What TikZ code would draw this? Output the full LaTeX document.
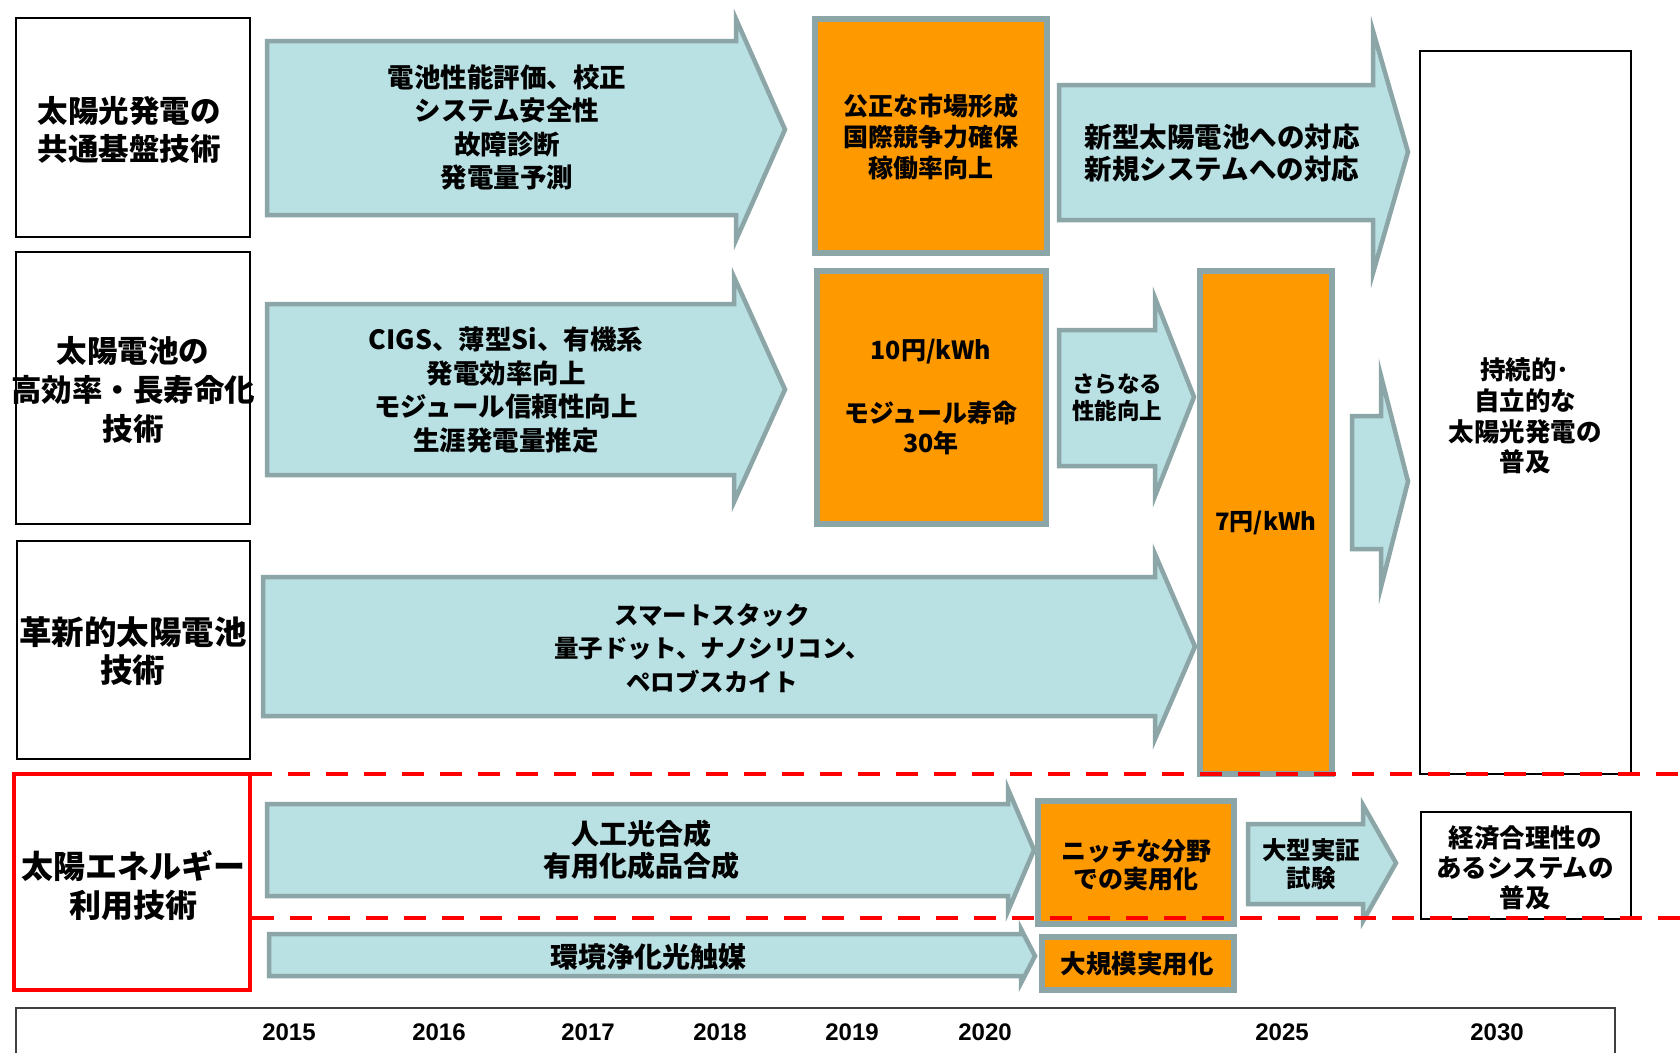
\documentclass[tikz,border=0pt]{standalone}
\usepackage{fontspec}
\newfontfamily\jp{Noto Sans CJK JP}
\newfontfamily\lat{Liberation Sans}
\definecolor{ablue}{HTML}{B9E0E3}
\definecolor{agray}{HTML}{8CA6A8}
\definecolor{orng}{HTML}{FF9900}
\definecolor{ygray}{HTML}{404040}
\tikzset{
  arrowshape/.style={fill=ablue, draw=agray, line width=4.5pt, line join=miter},
  obox/.style={draw=agray, fill=orng, line width=6pt, inner sep=0pt},
  lbox/.style={draw=black, line width=1.6pt, fill=white, inner sep=0pt},
  redbox/.style={draw=red, line width=4.5pt, fill=white, inner sep=0pt},
  txt/.style={align=center, inner sep=0pt},
  fsz/.style 2 args={font=\jp\bfseries\fontsize{#1}{#2}\selectfont},
  yr/.style={inner sep=0pt, font=\lat\bfseries\fontsize{24}{28}\selectfont},
  sep/.style={draw=red, line width=4pt, dash pattern=on 22pt off 16pt},
}
\newcommand{\blockarrow}[7]{\draw[arrowshape] (#1,#2) -- (#4,#2) -- (#4,#5) -- (#7,{(#5+#6)/2}) -- (#4,#6) -- (#4,#3) -- (#1,#3) -- cycle;}
\begin{document}
\begin{tikzpicture}[x=1pt,y=-1pt]
\useasboundingbox (0,0) rectangle (1680,1052);
\fill[white] (0,0) rectangle (1680,1052);

% block arrows
\blockarrow{267}{41}{215}{736}{19}{240}{785}
\blockarrow{1059}{85}{220}{1373}{31}{273}{1408}
\blockarrow{267}{304}{475}{734}{277}{502}{785}
\blockarrow{1059}{330}{466}{1155}{298}{496}{1194}
\blockarrow{1352}{416}{549}{1381}{376}{587}{1408}
\blockarrow{263}{577}{716}{1155}{554}{739}{1195}
\blockarrow{267}{804}{896}{1008}{789}{911}{1034}
\blockarrow{1248}{824}{904}{1363}{805}{921}{1396}
\blockarrow{269}{934}{976}{1021}{929}{983}{1035}

% orange boxes
\node[obox, minimum width=232pt, minimum height=234pt] (o1) at (931,136) {};
\node[obox, minimum width=229pt, minimum height=253pt] (o2) at (931.5,397.5) {};
\node[obox, minimum width=132pt, minimum height=503pt] (o3) at (1266,522.5) {};
\node[obox, minimum width=196pt, minimum height=123pt] (o4) at (1136,862.5) {};
\node[obox, minimum width=192pt, minimum height=53pt] (o5) at (1138,963.5) {};

% white boxes right
\node[lbox, minimum width=211pt, minimum height=723pt] (r1) at (1525.5,412.5) {};
\node[lbox, minimum width=210pt, minimum height=107pt] (r2) at (1526,865.5) {};

% left boxes
\node[lbox, minimum width=234pt, minimum height=219pt] (b1) at (133,127.5) {};
\node[lbox, minimum width=234pt, minimum height=272pt] (b2) at (133,388) {};
\node[lbox, minimum width=233pt, minimum height=218pt] (b3) at (133.5,650) {};
\node[redbox, minimum width=236pt, minimum height=216pt] (b4) at (132,882) {};

% texts
\node[txt, fsz={30.5}{38}] (b1t) at (129,130) {太陽光発電の\\共通基盤技術};
\node[txt, fsz={30.5}{39}] (b2t) at (133,390) {太陽電池の\\高効率・長寿命化\\技術};
\node[txt, fsz={32.5}{38}] (b3t) at (133,651) {革新的太陽電池\\技術};
\node[txt, fsz={32}{39}] (b4t) at (133,885.5) {太陽エネルギー\\利用技術};

\node[txt, fsz={26.5}{33.5}] (a1t) at (507,127.5) {電池性能評価、校正\\システム安全性\\故障診断\\発電量予測};
\node[txt, fsz={25}{31}] (o1t) at (931,137) {公正な市場形成\\国際競争力確保\\稼働率向上};
\node[txt, fsz={27.5}{32}] (a2t) at (1222,153) {新型太陽電池への対応\\新規システムへの対応};
\node[txt, fsz={25.5}{30.7}] (r1t) at (1525,416) {持続的･\\自立的な\\太陽光発電の\\普及};
\node[txt, fsz={26.5}{33.7}] (a3t) at (506,390) {CIGS、薄型Si、有機系\\発電効率向上\\モジュール信頼性向上\\生涯発電量推定};
\node[txt, fsz={25}{30}] (o2t) at (931,397) {10円/kWh\\[33pt]モジュール寿命\\30年};
\node[txt, fsz={22.5}{27}] (a4t) at (1117,397.5) {さらなる\\性能向上};
\node[txt, fsz={24}{28}] (o3t) at (1266,523) {7円/kWh};
\node[txt, fsz={24.5}{33.5}] (a6t) at (712,648) {スマートスタック\\量子ドット、ナノシリコン、\\ペロブスカイト};
\node[txt, fsz={28}{32}] (a7t) at (641,850) {人工光合成\\有用化成品合成};
\node[txt, fsz={25}{28}] (o4t) at (1136,865) {ニッチな分野\\での実用化};
\node[txt, fsz={24.5}{28}] (a8t) at (1311,864) {大型実証\\試験};
\node[txt, fsz={25.5}{30}] (r2t) at (1525,868) {経済合理性の\\あるシステムの\\普及};
\node[txt, fsz={28}{32}] (a9t) at (648,957) {環境浄化光触媒};
\node[txt, fsz={25.5}{30}] (o5t) at (1137,964) {大規模実用化};

% red dashed separators
\coordinate (d1s) at (250,774);
\coordinate (d1e) at (1680,774);
\coordinate (d2s) at (252,918);
\coordinate (d2e) at (1680,918);
\draw[sep] (d1s) -- (d1e);
\draw[sep] (d2s) -- (d2e);

% year box
\coordinate (yb1) at (16,1056);
\coordinate (yb2) at (16,1008);
\coordinate (yb3) at (1615,1008);
\coordinate (yb4) at (1615,1056);
\draw[ygray, line width=2pt] (yb1) -- (yb2) -- (yb3) -- (yb4);
\node[yr] (y15) at (289,1032) {2015};
\node[yr] (y16) at (439,1032) {2016};
\node[yr] (y17) at (588,1032) {2017};
\node[yr] (y18) at (720,1032) {2018};
\node[yr] (y19) at (852,1032) {2019};
\node[yr] (y20) at (985,1032) {2020};
\node[yr] (y25) at (1282,1032) {2025};
\node[yr] (y30) at (1497,1032) {2030};
\end{tikzpicture}
\end{document}
